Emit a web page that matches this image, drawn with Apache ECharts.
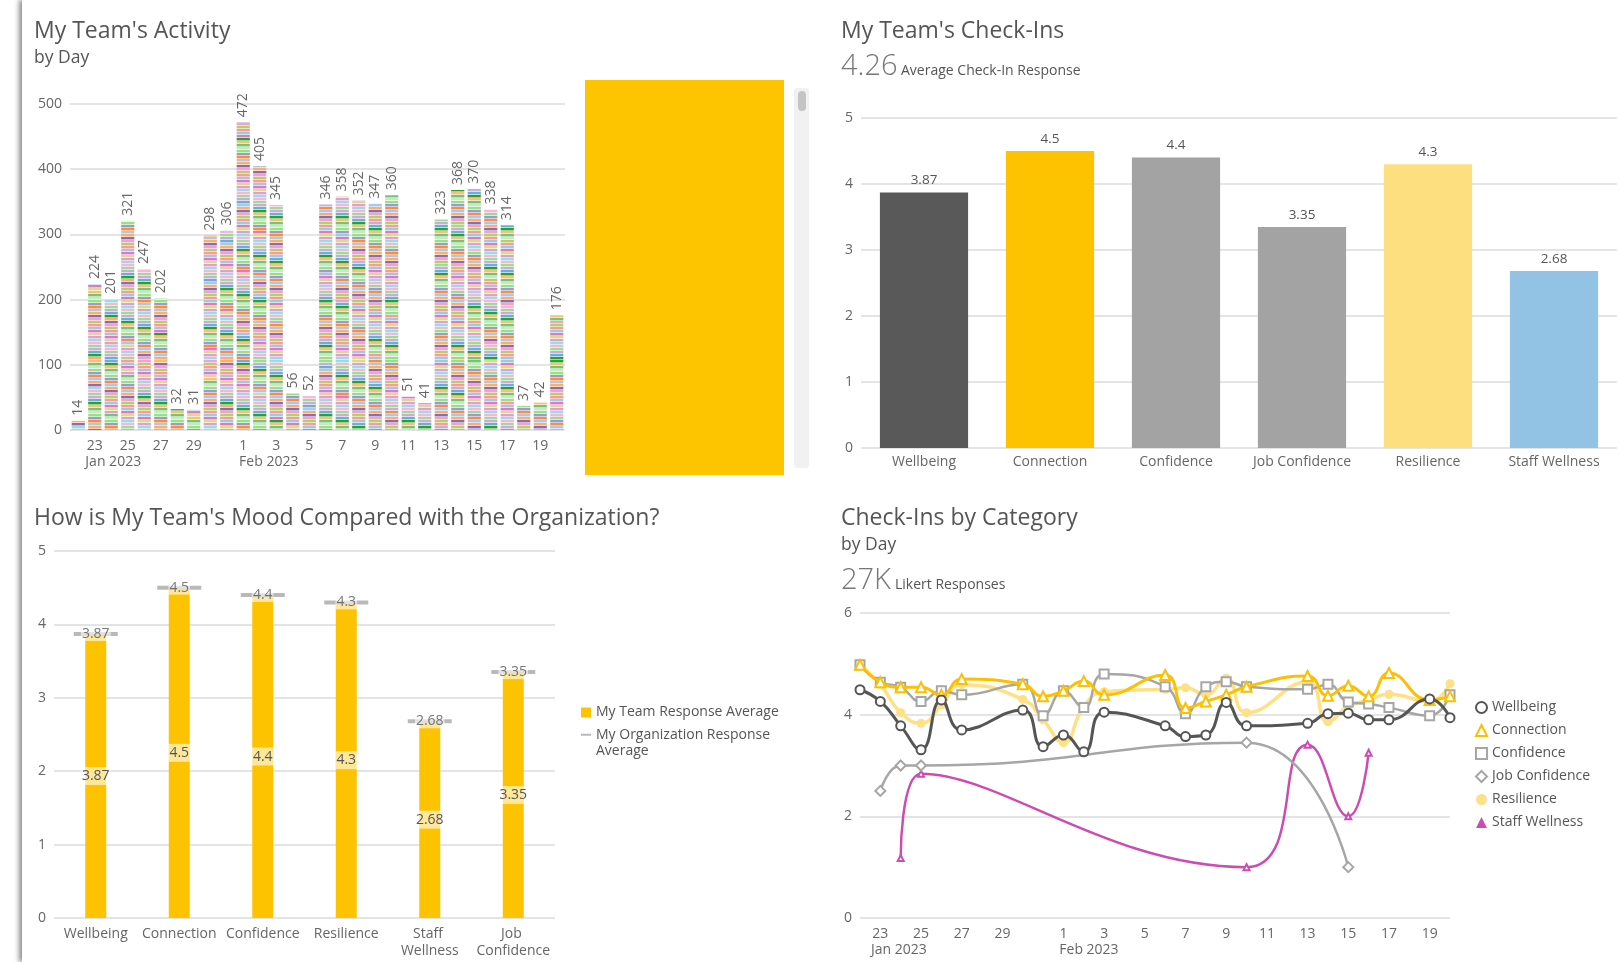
<!DOCTYPE html>
<html>
<head>
<meta charset="utf-8">
<title>Team Check-Ins</title>
<script src="https://cdn.jsdelivr.net/npm/echarts@6/dist/echarts.min.js"></script>
<style>
  html, body { margin: 0; padding: 0; background: #fff; }
  #shade { position: absolute; left: 22px; top: 0; width: 1597px; height: 962px; background: #fff; box-shadow: -3px 0 5px rgba(0,0,0,0.45); }
  #main { position: absolute; left: 0; top: 0; width: 1619px; height: 962px; }
</style>
</head>
<body>
<div id="shade"></div>
<div id="main"></div>
<script>
'use strict';

// days shown on both daily charts (22 Jan - 20 Feb 2023)
var days = ['2023-01-22', '2023-01-23', '2023-01-24', '2023-01-25', '2023-01-26', '2023-01-27', '2023-01-28', '2023-01-29', '2023-01-30', '2023-01-31',
  '2023-02-01', '2023-02-02', '2023-02-03', '2023-02-04', '2023-02-05', '2023-02-06', '2023-02-07', '2023-02-08', '2023-02-09', '2023-02-10',
  '2023-02-11', '2023-02-12', '2023-02-13', '2023-02-14', '2023-02-15', '2023-02-16', '2023-02-17', '2023-02-18', '2023-02-19', '2023-02-20'];
var dayTicks = ['', '23', '', '25', '', '27', '', '29', '', '', '1', '', '3', '', '5', '', '7', '', '9', '', '11', '', '13', '', '15', '', '17', '', '19', ''];
var monthTicks = ['', 'Jan 2023', '', '', '', '', '', '', '', '', 'Feb 2023', '', '', '', '', '', '', '', '', '', '', '', '', '', '', '', '', '', '', ''];

// activity by day
var activity = [14, 224, 201, 321, 247, 202, 32, 31, 298, 306, 472, 405, 345, 56, 52, 346, 358, 352, 347, 360, 51, 41, 323, 368, 370, 338, 314, 37, 42, 176];

// check-ins
var checkCategories = ['Wellbeing', 'Connection', 'Confidence', 'Job Confidence', 'Resilience', 'Staff Wellness'];
var checkAverage = [3.87, 4.5, 4.4, 3.35, 4.3, 2.68];

// mood compared with organization
var moodCategories = ['Wellbeing', 'Connection', 'Confidence', 'Resilience', 'Staff Wellness', 'Job Confidence'];
var teamAverage = [3.87, 4.5, 4.4, 4.3, 2.68, 3.35];
var orgAverage = [3.87, 4.5, 4.4, 4.3, 2.68, 3.35];

// check-ins by category, by day
var wellbeing = [4.49, 4.26, 3.78, 3.31, 4.29, 3.70, null, null, 4.09, 3.37, 3.60, 3.27, 4.05, null, null, 3.78, 3.57, 3.60, 4.24, 3.78, null, null, 3.83, 4.02, 4.03, 3.90, 3.90, null, 4.31, 3.94];
var connection = [4.98, 4.64, 4.54, 4.54, 4.39, 4.70, null, null, 4.60, 4.36, 4.47, 4.66, 4.39, null, null, 4.78, 4.13, 4.26, 4.39, 4.55, null, null, 4.76, 4.37, 4.57, 4.36, 4.82, null, 4.29, 4.36];
var confidence = [4.98, 4.64, 4.54, 4.26, 4.47, 4.39, null, null, 4.60, 3.98, 4.47, 4.14, 4.80, null, null, 4.55, 4.02, 4.55, 4.65, 4.55, null, null, 4.50, 4.60, 4.25, 4.21, 4.14, null, 3.98, 4.39];
var jobConfidence = [null, 2.50, 3.00, 3.00, null, null, null, null, null, null, null, null, null, null, null, null, null, null, null, 3.45, null, null, null, null, 1.00, null, null, null, null, null];
var resilience = [4.98, 4.59, 4.04, 3.83, 4.19, 4.59, null, null, 4.30, 3.90, 3.45, 4.16, 4.45, null, null, 4.50, 4.53, 4.39, 4.72, 4.04, null, null, 4.65, 3.86, 4.16, 4.29, 4.40, null, 4.26, 4.61];
var staffWellness = [null, null, 1.18, 2.84, null, null, null, null, null, null, null, null, null, null, null, null, null, null, null, 1.00, null, null, 3.41, null, 2.00, 3.25, null, null, null, null];

var FONT = 'Open Sans';
var TXT = '#666';
var GRID_LINE = {lineStyle: {color: '#e4e4e4', width: 2}};

// striped fill for the activity bars (thin bands, sequence shifted per bar)
var stripeColors = ['#f4a3c8', '#aec7e8', '#98df8a', '#ffbb78', '#c5b0d5', '#9edae5', '#e377c2', '#b5cf6b', '#fdae6b', '#9e9ac8',
	'#74c476', '#6baed6', '#f7b6d2', '#dbdb8d', '#ff9896', '#8c6bb1', '#fd8d3c', '#c7e9c0', '#2ca02c', '#a1d99b', '#de9ed6', '#9ecae1'];
function stripes(shift) {
	var n = 120;
	var c = document.createElement('canvas');
	c.width = 4;
	c.height = n * 3;
	var ctx = c.getContext('2d');
	for (var i = 0; i < n; i++) {
		var k = i + shift;
		ctx.fillStyle = stripeColors[(k * 7 + Math.floor(k / 22) * 5) % stripeColors.length];
		ctx.fillRect(0, i * 3, 4, 3);
		ctx.fillStyle = 'rgba(255,255,255,0.55)';
		ctx.fillRect(0, i * 3 + 2, 4, 1);
	}
	return c;
}

function dateLabel(value, index) {
	if (!dayTicks[index]) return '';
	var s = '{d|' + dayTicks[index] + '}';
	if (monthTicks[index]) {
		s += '\n{' + (index < 10 ? 'jan' : 'feb') + '|' + monthTicks[index] + '}';
	}
	return s;
}
var dateRich = {
	d: {fontSize: 14, color: TXT, lineHeight: 16, fontFamily: FONT},
	jan: {fontSize: 14, color: TXT, lineHeight: 16, fontFamily: FONT, padding: [0, 0, 0, 37]},
	feb: {fontSize: 14, color: TXT, lineHeight: 16, fontFamily: FONT, padding: [0, 0, 0, 51]}
};

function valueAxis(grid, max, interval) {
	return {
		type: 'value', gridIndex: grid, min: 0, max: max, interval: interval,
		axisLine: {show: false}, axisTick: {show: false},
		axisLabel: {color: TXT, fontSize: 14, margin: 8, fontFamily: FONT},
		splitLine: GRID_LINE
	};
}

function title(text, x, y, size, extra) {
	var style = {text: text, x: x, y: y, fontSize: size, fontFamily: FONT, fill: '#555', verticalAlign: 'middle'};
	for (var k in extra) style[k] = extra[k];
	return {type: 'text', silent: true, style: style};
}

var checkColors = ['#595959', '#fdc300', '#a3a3a3', '#a3a3a3', '#fedf80', '#92c2e4'];

var option = {
	animation: false,
	textStyle: {fontFamily: FONT},
	grid: [
		{left: 70, top: 104, width: 495, height: 326, outerBoundsMode: 'none'},
		{left: 861, top: 118, width: 756, height: 330, outerBoundsMode: 'none'},
		{left: 54, top: 551, width: 501, height: 367, outerBoundsMode: 'none'},
		{left: 860, top: 613, width: 590, height: 305, outerBoundsMode: 'none'}
	],
	xAxis: [
		{
			type: 'category', gridIndex: 0, data: days,
			axisLine: {show: false}, axisTick: {show: false},
			axisLabel: {interval: 0, margin: 8, formatter: dateLabel, rich: dateRich}
		},
		{
			type: 'category', gridIndex: 1, data: checkCategories,
			axisLine: {show: false}, axisTick: {show: false},
			axisLabel: {interval: 0, margin: 5, color: TXT, fontSize: 14, lineHeight: 18, fontFamily: FONT}
		},
		{
			type: 'category', gridIndex: 2, data: moodCategories,
			axisLine: {show: false}, axisTick: {show: false},
			axisLabel: {interval: 0, margin: 8, color: TXT, fontSize: 14, lineHeight: 17, width: 80, overflow: 'break', fontFamily: FONT}
		},
		{
			type: 'category', gridIndex: 3, data: days, boundaryGap: false,
			axisLine: {show: false}, axisTick: {show: false},
			axisLabel: {interval: 0, margin: 8, formatter: dateLabel, rich: dateRich}
		}
	],
	yAxis: [
		valueAxis(0, 500, 100),
		valueAxis(1, 5, 1),
		valueAxis(2, 5, 1),
		valueAxis(3, 6, 2)
	],
	legend: [
		{
			left: 581, top: 704, padding: 0, selectedMode: false,
			itemWidth: 10, itemHeight: 10,
			textStyle: {color: '#555', fontSize: 14, lineHeight: 17, fontFamily: FONT},
			data: [{name: 'My Team Response Average', icon: 'rect'}]
		},
		{
			left: 581, top: 710, padding: 0, selectedMode: false,
			itemWidth: 10, itemHeight: 2,
			formatter: function(name) { return ' \nMy Organization Response\nAverage'; },
			textStyle: {color: '#555', fontSize: 14, lineHeight: 16.5, fontFamily: FONT},
			data: [{name: 'My Organization Response Average', icon: 'rect'}]
		},
		{
			orient: 'vertical', left: 1475, top: 696, padding: 0, selectedMode: false,
			itemWidth: 11, itemHeight: 11, itemGap: 0,
			textStyle: {color: '#555', fontSize: 14, lineHeight: 23, fontFamily: FONT},
			data: [
				{name: 'Wellbeing', icon: 'emptyCircle'},
				{name: 'Connection', icon: 'emptyTriangle'},
				{name: 'Confidence', icon: 'emptyRect'},
				{name: 'Job Confidence', icon: 'emptyDiamond'},
				{name: 'Resilience', icon: 'circle'},
				{name: 'Staff Wellness', icon: 'triangle'}
			]
		}
	],
	graphic: [
		title("My Team's Activity", 34, 31, 23),
		title('by Day', 34, 58, 17.5),
		{type: 'rect', silent: true, shape: {x: 585, y: 80, width: 199, height: 395}, style: {fill: '#fdc500'}},
		{type: 'rect', silent: true, shape: {x: 794, y: 88, width: 15, height: 380, r: 3}, style: {fill: '#f1f1f1'}},
		{type: 'rect', silent: true, shape: {x: 798, y: 91, width: 8, height: 20, r: 4}, style: {fill: '#c4c4c4'}},
		title("My Team's Check-Ins", 841, 31, 23),
		title('4.26', 841, 67, 29, {fontWeight: 300, fill: '#777'}),
		title('Average Check-In Response', 901, 71, 14),
		title("How is My Team's Mood Compared with the Organization?", 34, 518, 23),
		title('Check-Ins by Category', 841, 518, 23),
		title('by Day', 841, 545, 17.5),
		title('27K', 841, 581, 29, {fontWeight: 300, fill: '#777'}),
		title('Likert Responses', 895, 585, 14)
	],
	series: [
		{
			name: 'Activity', type: 'bar', xAxisIndex: 0, yAxisIndex: 0,
			barCategoryGap: '20%',
			data: activity.map(function(v, i) {
				return {value: v, itemStyle: {color: {image: stripes(i * 13), repeat: 'repeat'}}};
			}),
			label: {
				show: true, position: 'top', rotate: 90, align: 'left', verticalAlign: 'middle',
				distance: 5, color: TXT, fontSize: 14, fontFamily: FONT
			}
		},
		{
			name: 'Average Check-In', type: 'bar', xAxisIndex: 1, yAxisIndex: 1,
			barCategoryGap: '30%',
			data: checkAverage.map(function(v, i) {
				return {value: v, itemStyle: {color: checkColors[i]}};
			}),
			label: {show: true, position: 'top', distance: 5, color: '#555', fontSize: 13.5, fontFamily: FONT}
		},
		{
			name: 'My Team Response Average', type: 'bar', xAxisIndex: 2, yAxisIndex: 2,
			data: teamAverage, barWidth: 21,
			itemStyle: {color: '#fdc300'},
			label: {
				show: true, position: 'inside', color: '#555', fontSize: 14, fontFamily: FONT,
				backgroundColor: 'rgba(255,255,255,0.6)', padding: [2, 1]
			}
		},
		{
			name: 'My Organization Response Average', type: 'scatter', xAxisIndex: 2, yAxisIndex: 2,
			data: orgAverage, symbol: 'rect', symbolSize: [44, 4], z: 4,
			itemStyle: {color: '#a8a8a8'},
			label: {
				show: true, position: 'inside', color: '#555', fontSize: 14, fontFamily: FONT,
				backgroundColor: 'rgba(255,255,255,0.75)', padding: [0, 1]
			}
		},
		{
			name: 'Resilience', type: 'line', xAxisIndex: 3, yAxisIndex: 3, z: 2,
			data: resilience, smooth: 0.5, connectNulls: true,
			symbol: 'circle', symbolSize: 9,
			lineStyle: {color: '#fee085', width: 3.5}, itemStyle: {color: '#fee085'}
		},
		{
			name: 'Staff Wellness', type: 'line', xAxisIndex: 3, yAxisIndex: 3, z: 3,
			data: staffWellness, smooth: 0.5, connectNulls: true,
			symbol: 'emptyTriangle', symbolSize: 6,
			lineStyle: {color: '#cc4db2', width: 2.5}, itemStyle: {color: '#cc4db2', borderWidth: 1}
		},
		{
			name: 'Job Confidence', type: 'line', xAxisIndex: 3, yAxisIndex: 3, z: 3,
			data: jobConfidence, smooth: 0.5, connectNulls: true,
			symbol: 'emptyDiamond', symbolSize: 10,
			lineStyle: {color: '#a6a6a6', width: 2.5}, itemStyle: {color: '#a6a6a6', borderWidth: 2}
		},
		{
			name: 'Confidence', type: 'line', xAxisIndex: 3, yAxisIndex: 3, z: 4,
			data: confidence, smooth: 0.5, connectNulls: true,
			symbol: 'emptyRect', symbolSize: 9,
			lineStyle: {color: '#a6a6a6', width: 2.5}, itemStyle: {color: '#a6a6a6', borderWidth: 2}
		},
		{
			name: 'Connection', type: 'line', xAxisIndex: 3, yAxisIndex: 3, z: 5,
			data: connection, smooth: 0.5, connectNulls: true,
			symbol: 'emptyTriangle', symbolSize: 10,
			lineStyle: {color: '#fcc000', width: 3}, itemStyle: {color: '#fcc000', borderWidth: 2}
		},
		{
			name: 'Wellbeing', type: 'line', xAxisIndex: 3, yAxisIndex: 3, z: 6,
			data: wellbeing, smooth: 0.5, connectNulls: true,
			symbol: 'emptyCircle', symbolSize: 9,
			lineStyle: {color: '#555555', width: 3}, itemStyle: {color: '#555555', borderWidth: 2}
		}
	]
};

var myChart = echarts.init(document.getElementById('main'));
myChart.setOption(option);
</script>
</body>
</html>
